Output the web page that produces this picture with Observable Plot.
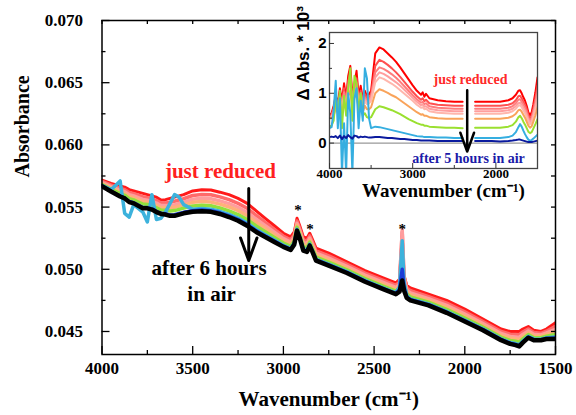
<!DOCTYPE html>
<html><head><meta charset="utf-8">
<script src="https://cdn.jsdelivr.net/npm/d3@7"></script>
<script src="https://cdn.jsdelivr.net/npm/@observablehq/plot@0.6"></script>
<style>
body{margin:0;background:#fff;}
#wrap{position:relative;width:576px;height:415px;overflow:hidden;}
#wrap svg{position:absolute;left:0;top:0;}
</style></head><body><div id="wrap"></div>
<script>
// ---------- MAIN CHART DATA (absorbance vs wavenumber) ----------
const wnMain = [4000,3950,3900,3875,3850,3825,3800,3775,3750,3725,3700,3675,3650,3625,3600,3575,3550,3500,3450,3400,3350,3300,3250,3200,3150,3100,3050,3000,2960,2940,2925,2910,2890,2870,2855,2840,2820,2750,2650,2550,2450,2380,2360,2345,2335,2320,2300,2200,2100,2000,1900,1800,1750,1720,1700,1680,1650,1620,1580,1550,1500];
const absRed = [.05717,.0569,.0567,.0566,.0564,.0563,.0562,.0561,.0560,.0559,.0558,.05556,.0556,.0557,.0558,.0559,.0560,.0563,.0564,.05637,.0562,.0560,.0557,.0553,.0547,.0541,.0535,.0529,.0526,.0530,.0541,.0535,.0526,.0525,.0529,.0524,.0517,.0513,.0506,.0499,.0493,.0489,.0492,.0527,.0495,.0487,.0485,.0480,.0475,.0468,.0460,.0452,.0450,.0450,.0450,.0452,.0454,.0451,.0450,.0452,.0457];
const absLightRed = [.05706,.05676,.05651,.0564,.05618,.05608,.05596,.05584,.05576,.05566,.05554,.05532,.05534,.05539,.05547,.05557,.05567,.05593,.05602,.05599,.05582,.0556,.0553,.0549,.05433,.05377,.05321,.05266,.05237,.05278,.05388,.05328,.05236,.05226,.05268,.05218,.05148,.05108,.0504,.0497,.0491,.0487,.04898,.0530,.0494,.04848,.04828,.0478,.04728,.04658,.0458,.045,.04478,.04476,.04474,.04496,.0452,.04492,.04485,.04502,.04541];
const absPink = [.05697,.05664,.05636,.05624,.056,.0559,.05576,.05562,.05556,.05546,.05532,.05512,.05512,.05514,.0552,.0553,.0554,.05563,.05571,.05567,.0555,.05528,.05498,.05458,.05402,.0535,.05298,.05246,.05218,.0526,.0537,.0531,.05216,.05206,.0525,.052,.0513,.0509,.05024,.04954,.04894,.04854,.0488,.0532,.0494,.04832,.0481,.04764,.0471,.0464,.04564,.04484,.0446,.04456,.04452,.04476,.04504,.04478,.04472,.04488,.04518];
const absOrange = [.0569,.05654,.05623,.0561,.05585,.05575,.0556,.05544,.0554,.0553,.05514,.05495,.05494,.05493,.05498,.05508,.05518,.05538,.05545,.0554,.05524,.05501,.05471,.05431,.05377,.05328,.05279,.0523,.05202,.05245,.05355,.05295,.052,.0519,.05235,.05185,.05115,.05075,.0501,.0494,.0488,.0484,.04865,.0505,.0490,.04818,.04795,.0475,.04695,.04625,.0455,.0447,.04445,.0444,.04434,.0446,.0449,.04466,.04462,.04476,.04499];
const absGreen = [.05682,.05643,.05609,.05595,.05568,.05558,.05541,.05524,.05521,.05511,.05494,.05476,.05474,.05469,.05472,.05482,.05492,.05509,.05515,.05511,.05494,.0547,.0544,.054,.05348,.05302,.05256,.05211,.05184,.05228,.05338,.05278,.05181,.05171,.05218,.05168,.05098,.05058,.04995,.04925,.04865,.04825,.04848,.0500,.0488,.04803,.04778,.04735,.04678,.04608,.04535,.04455,.04428,.04421,.04414,.04441,.04475,.04452,.0445,.04462,.04476];
const absCyan = [.05674,.0564,.0571,.0545,.0542,.0552,.0549,.0546,.0538,.0560,.0540,.0541,.0546,.0553,.0560,.0558,.0552,.05482,.05488,.05483,.05466,.05442,.05412,.05372,.0532,.05278,.05236,.05193,.05168,.05212,.05322,.05262,.05163,.05153,.05202,.05152,.05082,.05042,.04981,.04911,.04851,.04811,.0486,.0523,.0490,.0479,.04762,.04721,.04662,.04592,.04521,.04441,.04412,.04403,.04394,.04423,.04461,.0444,.04438,.0445,.04456];
const absBlue = [.0567,.05628,.05589,.05575,.05545,.05535,.05516,.05496,.05496,.05486,.05466,.0545,.05446,.05437,.05438,.05448,.05458,.0547,.05476,.05471,.05454,.05429,.05399,.05359,.05309,.05268,.05227,.05186,.0516,.05205,.05315,.05255,.05156,.05146,.05195,.05145,.05075,.05035,.04975,.04905,.04845,.04805,.04835,.0500,.0486,.04775,.04755,.04715,.04655,.04585,.04515,.04435,.04405,.04396,.04386,.04416,.04455,.04434,.04434,.04444,.04447];
const absBlack = [.05668,.05625,.05585,.0557,.0554,.0553,.0551,.0549,.0549,.0548,.0546,.05445,.0544,.0543,.0543,.0544,.0545,.05462,.05467,.05462,.05445,.0542,.0539,.0535,.0530,.0526,.0522,.0518,.05155,.0520,.0531,.0525,.0515,.0514,.0519,.0514,.0507,.0503,.0497,.0490,.0484,.0480,.0482,.0491,.0483,.0477,.0475,.0471,.0465,.0458,.0451,.0443,.0440,.0439,.0438,.0441,.0445,.0443,.0443,.0444,.0444];

const xMajor = [4000,3500,3000,2500,2000,1500];
const xMinor = [3750,3250,2750,2250,1750];
const yMajor = [0.045,0.050,0.055,0.060,0.065,0.070];
const yMinor = [0.0475,0.0525,0.0575,0.0625,0.0675];
const xTitle = "Wavenumber (cm\u207B\u00B9)";
const yTitle = "Absorbance";
// annotation positions, in data units
const noteReducedMain = [{t:"just reduced", wn:3347, a:0.05786}];
const noteAfterMain = [{t:"after 6 hours", wn:3410, a:0.05006},{t:"in air", wn:3396, a:0.04797}];
const arrowMain = [{wn:3191, a1:0.05649, a2:0.0507}];
const starMarks = [{wn:2920, a:0.05472},{wn:2854, a:0.05325},{wn:2345, a:0.05325}];

// ---------- INSET DATA (delta absorbance x 10^3) ----------
const wnInset = [4000,3975,3950,3925,3900,3875,3850,3825,3800,3775,3750,3725,3700,3675,3650,3625,3600,3575,3550,3525,3500,3450,3400,3350,3300,3250,3200,3150,3100,3050,3000,2950,2900,2880,2860,2840,2800,2700,2600,2500,2400,2330,2250,2150,2050,1950,1850,1800,1760,1730,1710,1690,1670,1650,1630,1610,1590,1570,1550,1525,1500];
const dRed = [.55,.6,.75,.95,.8,1.1,.85,1.2,.9,1.35,1.55,.95,1.2,1.45,.95,1.15,.9,1.05,.95,.98,1.05,1.80,1.92,1.88,1.80,1.72,1.63,1.52,1.40,1.28,1.16,1.05,.97,1.02,.93,.99,.9,.86,.84,.83,.83,null,.83,.83,.83,.83,.86,.9,.97,1.05,1.06,1.0,.92,.85,.75,.62,.56,.62,.78,1.02,1.32];
const dS2 = [.53,.57,.7,.9,.78,1.0,.8,1.1,.85,1.25,1.4,.9,1.1,1.3,.9,1.05,.85,.98,.9,.92,.98,1.55,1.67,1.63,1.57,1.5,1.42,1.33,1.23,1.13,1.03,.94,.87,.9,.84,.87,.8,.77,.76,.75,.75,null,.75,.75,.75,.75,.77,.8,.86,.94,.95,.9,.83,.77,.68,.56,.5,.55,.69,.9,1.15];
const dS3 = [.52,.55,.66,.85,.75,.95,.77,1.02,.82,1.15,1.3,.86,1.05,1.2,.86,1.0,.8,.92,.86,.88,.94,1.42,1.52,1.49,1.44,1.38,1.31,1.23,1.14,1.05,.96,.88,.81,.83,.78,.8,.74,.71,.7,.69,.69,null,.69,.69,.69,.69,.71,.74,.8,.87,.88,.83,.77,.71,.62,.51,.46,.5,.63,.82,1.05];
const dS4 = [.51,.53,.62,.8,.72,.9,.74,.95,.78,1.08,1.2,.82,1.0,1.12,.82,.95,.76,.88,.82,.84,.9,1.32,1.42,1.39,1.34,1.28,1.22,1.15,1.07,.99,.91,.83,.76,.78,.73,.74,.69,.66,.65,.64,.64,null,.64,.64,.64,.64,.66,.69,.74,.8,.81,.77,.71,.65,.57,.47,.42,.46,.58,.75,.96];
const dS5 = [.5,.52,.6,.75,.7,.85,.7,.9,.75,1.0,1.12,.78,.95,1.05,.78,.9,.72,.84,.78,.8,.85,1.22,1.32,1.29,1.24,1.19,1.13,1.06,.99,.92,.85,.77,.71,.72,.68,.69,.64,.61,.6,.59,.59,null,.59,.59,.59,.59,.61,.64,.69,.75,.76,.72,.66,.6,.52,.43,.38,.42,.53,.69,.88];
const dOrange = [.5,.5,.55,.7,.62,.8,.6,.85,.65,.95,1.05,.7,.9,1.0,.7,.85,.62,.75,.68,.68,.72,1.0,1.08,1.05,1.01,.96,.92,.86,.8,.74,.68,.62,.57,.58,.55,.55,.52,.5,.49,.49,.49,null,.49,.49,.49,.49,.51,.54,.59,.66,.67,.63,.57,.51,.43,.35,.31,.34,.43,.56,.72];
const dGreen = [.33,.35,.45,.9,.6,1.05,.3,.95,.55,1.1,1.5,.45,1.35,1.2,.6,1.0,.55,.6,.52,.5,.52,.68,.74,.72,.69,.66,.62,.58,.53,.48,.44,.4,.37,.37,.35,.35,.33,.32,.31,.31,.3,null,.31,.31,.31,.31,.33,.36,.43,.52,.55,.5,.43,.37,.3,.23,.2,.22,.29,.38,.48];
const dCyan = [.3,.32,.65,1.25,.3,.9,-.6,.4,-.6,1.0,.6,-.6,.9,1.1,.3,.85,.45,1.5,1.3,.5,.3,.33,.32,.3,.28,.26,.24,.22,.2,.18,.16,.14,.13,.13,.12,.12,.12,.11,.11,.1,.1,null,.1,.1,.1,.1,.12,.15,.22,.32,.38,.33,.25,.18,.12,.07,.05,.06,.09,.13,.17];
const dNavy = [.12,.13,.12,.14,.1,.15,.08,.14,.1,.16,.12,.09,.15,.14,.11,.13,.12,.13,.12,.11,.11,.12,.12,.11,.1,.1,.09,.08,.08,.07,.06,.06,.05,.05,.05,.05,.05,.04,.04,.04,.04,null,.04,.04,.04,.03,.04,.05,.06,.07,.07,.06,.05,.04,.03,.02,.02,.02,.03,.04,.05];
const insetXTicks = [4000,3000,2000];
const insetXMinor = [3500,2500];
const insetYTicks = [0,1,2];
const insetYMinor = [0.5,1.5];
const insetXTitle = "Wavenumber (cm\u207B\u00B9)";
const insetYTitle = "\u0394 Abs. * 10\u00B3";
const noteReducedInset = [{t:"just reduced", wn:2305, d:1.28}];
const noteAfterInset = [{t:"after 5 hours in air", wn:2329, d:-0.30}];
const arrowInset = [{wn:2345, d1:1.06, d2:-0.17}];

// ---------- DRAWING ----------
const serif = "'Liberation Serif','Times New Roman',serif";
const sans = "'Liberation Sans',Arial,sans-serif";
const W = 576, H = 415;
const mL = 101.5, mR = 21, mT = 20, mB = 61;
const fw = W - mL - mR, fh = H - mT - mB;

const mainSeries = [absRed, absLightRed, absPink, absOrange, absGreen, absCyan, absBlue, absBlack];
const mainColors = ["#ff1a1a", "#ff6a6a", "#ff9d9d", "#ffb07a", "#92e03c", "#3cb2dc", "#1c3cd6", "#000000"];
const mainWidths = [3, 3.5, 3.5, 3.5, 3.5, 3.5, 3.5, 4.5];

const bold = {fontWeight: "bold"};
const mainMarks = [];
mainSeries.forEach((vals, k) => {
  mainMarks.push(Plot.line(wnMain.map((w, i) => ({wn: w, a: vals[i]})),
    {x: "wn", y: "a", stroke: mainColors[k], strokeWidth: mainWidths[k], strokeLinejoin: "round", clip: true}));
});

const main = Plot.plot({
  width: W, height: H,
  marginLeft: mL, marginRight: mR, marginTop: mT, marginBottom: mB,
  x: {domain: [4000, 1500], axis: null},
  y: {domain: [0.04315, 0.070], axis: null},
  style: {background: "white", overflow: "visible"},
  marks: [
    ...mainMarks,
    Plot.frame({stroke: "black", strokeWidth: 1.5}),
    Plot.ruleX(xMajor, {x: d => d, insetTop: fh - 8, stroke: "black", strokeWidth: 1.3}),
    Plot.ruleX(xMinor, {x: d => d, insetTop: fh - 4, stroke: "black", strokeWidth: 1.3}),
    Plot.ruleX([...xMajor, ...xMinor], {x: d => d, insetBottom: fh - 4, stroke: "black", strokeWidth: 1.3}),
    Plot.ruleY(yMajor, {y: d => d, insetRight: fw - 8, stroke: "black", strokeWidth: 1.3}),
    Plot.ruleY(yMinor, {y: d => d, insetRight: fw - 4, stroke: "black", strokeWidth: 1.3}),
    Plot.ruleY([...yMajor, ...yMinor], {y: d => d, insetLeft: fw - 4, stroke: "black", strokeWidth: 1.3}),
    Plot.text(xMajor, {x: d => d, text: d => String(d), frameAnchor: "bottom", dy: 19.5, fontSize: 17, fontFamily: serif, ...bold, fill: "black"}),
    Plot.text(yMajor, {y: d => d, text: d => d.toFixed(3), frameAnchor: "left", dx: -19, textAnchor: "end", fontSize: 17, fontFamily: serif, ...bold, fill: "black"}),
    Plot.text([xTitle], {text: d => d, frameAnchor: "bottom", dy: 51, fontSize: 21, fontFamily: serif, ...bold, fill: "black"}),
    Plot.text([{t: yTitle, a: 0.05738}], {y: "a", text: "t", frameAnchor: "left", dx: -79, rotate: -90, fontSize: 20, fontFamily: serif, ...bold, fill: "black"}),
    Plot.text(noteReducedMain, {x: "wn", y: "a", text: "t", fontSize: 21, fontFamily: serif, ...bold, fill: "#ff2020"}),
    Plot.text(noteAfterMain, {x: "wn", y: "a", text: "t", fontSize: 21, fontFamily: serif, ...bold, fill: "black"}),
    Plot.arrow(arrowMain, {x1: "wn", x2: "wn", y1: "a1", y2: "a2", stroke: "black", strokeWidth: 3, headLength: 16, headAngle: 40}),
    Plot.text(starMarks, {x: "wn", y: "a", text: d => "*", fontSize: 15, fontFamily: serif, ...bold, fill: "black"})
  ]
});

// inset
const iL = 329, iR = 537, iT = 32, iB = 168;
const ifw = iR - iL, ifh = iB - iT;
const insetSeries = [dRed, dS2, dS3, dS4, dS5, dOrange, dGreen, dCyan, dNavy];
const insetColors = ["#ff0000", "#ff5050", "#ff7d7d", "#ff9e9e", "#ffb6ac", "#f9a35a", "#9ae030", "#35aee0", "#0a1a9e"];
const insetMarks = [];
insetSeries.forEach((vals, k) => {
  insetMarks.push(Plot.line(wnInset.map((w, i) => ({wn: w, d: vals[i]})),
    {x: "wn", y: "d", stroke: insetColors[k], strokeWidth: 2, strokeLinejoin: "round", clip: true}));
});

const inset = Plot.plot({
  width: W, height: H,
  marginLeft: iL, marginRight: W - iR, marginTop: iT, marginBottom: H - iB,
  x: {domain: [4000, 1500], axis: null},
  y: {domain: [-0.51, 2.22], axis: null},
  style: {background: "transparent", overflow: "visible"},
  marks: [
    Plot.frame({fill: "white"}),
    Plot.ruleY([0], {stroke: "#999", strokeWidth: 1.3}),
    ...insetMarks,
    Plot.frame({stroke: "#444", strokeWidth: 1.3}),
    Plot.ruleX(insetXTicks, {x: d => d, insetTop: ifh - 5, stroke: "#333"}),
    Plot.ruleX(insetXMinor, {x: d => d, insetTop: ifh - 3, stroke: "#333"}),
    Plot.ruleY(insetYTicks, {y: d => d, insetRight: ifw - 5, stroke: "#333"}),
    Plot.ruleY(insetYMinor, {y: d => d, insetRight: ifw - 3, stroke: "#333"}),
    Plot.text(insetXTicks, {x: d => d, text: d => String(d), frameAnchor: "bottom", dy: 9, fontSize: 13, fontFamily: serif, ...bold, fill: "black"}),
    Plot.text(insetYTicks, {y: d => d, text: d => String(d), frameAnchor: "left", dx: -3, textAnchor: "end", fontSize: 15, fontFamily: sans, ...bold, fill: "black"}),
    Plot.text([insetXTitle], {text: d => d, frameAnchor: "bottom", dx: 10, dy: 28, fontSize: 19, fontFamily: serif, ...bold, fill: "black"}),
    Plot.text([insetYTitle], {text: d => d, frameAnchor: "left", dx: -26, rotate: -90, fontSize: 17, fontFamily: sans, ...bold, fill: "black"}),
    Plot.text(noteReducedInset, {x: "wn", y: "d", text: "t", fontSize: 14, fontFamily: serif, ...bold, fill: "#ff2a2a"}),
    Plot.text(noteAfterInset, {x: "wn", y: "d", text: "t", fontSize: 14, fontFamily: serif, ...bold, fill: "#1a1aa8"}),
    Plot.arrow(arrowInset, {x1: "wn", x2: "wn", y1: "d1", y2: "d2", stroke: "black", strokeWidth: 2.5, headLength: 12, headAngle: 40})
  ]
});

const wrap = document.getElementById("wrap");
wrap.appendChild(main);
wrap.appendChild(inset);
</script>
</body></html>
